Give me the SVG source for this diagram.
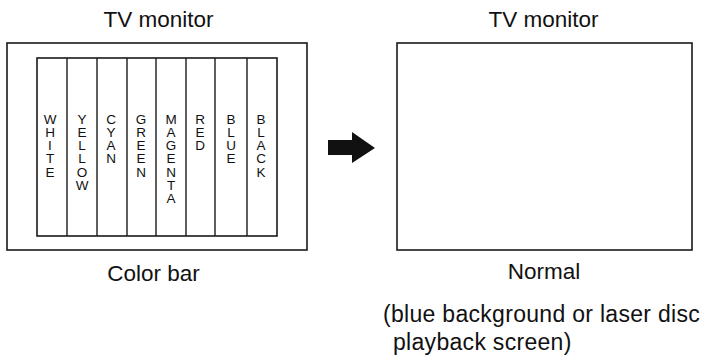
<svg xmlns="http://www.w3.org/2000/svg" width="703" height="361" viewBox="0 0 703 361">
<style>
.box{fill:none;stroke:#1a1a1a;stroke-width:1.6}
.line{stroke:#1a1a1a;stroke-width:1.4}
.lbl{font-family:"Liberation Sans",Arial,sans-serif;font-size:22.5px;fill:#111;text-anchor:middle}
.sub{font-family:"Liberation Sans",Arial,sans-serif;font-size:23px;fill:#111;letter-spacing:0.3px}
.bar{font-family:"Liberation Sans",Arial,sans-serif;font-size:13.5px;fill:#111;text-anchor:middle}
</style>
<rect width="703" height="361" fill="#fff"/>
<g id="left-monitor">
<text class="lbl" x="158.5" y="27">TV monitor</text>
<rect class="box" x="7" y="43" width="300" height="207"/>
<rect class="box" x="37" y="58" width="240" height="178"/>
<line class="line" x1="67" y1="58" x2="67" y2="236"/>
<line class="line" x1="97" y1="58" x2="97" y2="236"/>
<line class="line" x1="127" y1="58" x2="127" y2="236"/>
<line class="line" x1="156" y1="58" x2="156" y2="236"/>
<line class="line" x1="186" y1="58" x2="186" y2="236"/>
<line class="line" x1="215" y1="58" x2="215" y2="236"/>
<line class="line" x1="247" y1="58" x2="247" y2="236"/>
<text class="bar"><tspan x="50" y="123.5">W</tspan><tspan x="50" dy="13.3">H</tspan><tspan x="50" dy="13.3">I</tspan><tspan x="50" dy="13.3">T</tspan><tspan x="50" dy="13.3">E</tspan></text>
<text class="bar"><tspan x="82" y="123.5">Y</tspan><tspan x="82" dy="13.3">E</tspan><tspan x="82" dy="13.3">L</tspan><tspan x="82" dy="13.3">L</tspan><tspan x="82" dy="13.3">O</tspan><tspan x="82" dy="13.3">W</tspan></text>
<text class="bar"><tspan x="111" y="123.5">C</tspan><tspan x="111" dy="13.3">Y</tspan><tspan x="111" dy="13.3">A</tspan><tspan x="111" dy="13.3">N</tspan></text>
<text class="bar"><tspan x="141" y="123.5">G</tspan><tspan x="141" dy="13.3">R</tspan><tspan x="141" dy="13.3">E</tspan><tspan x="141" dy="13.3">E</tspan><tspan x="141" dy="13.3">N</tspan></text>
<text class="bar"><tspan x="171" y="123.5">M</tspan><tspan x="171" dy="13.3">A</tspan><tspan x="171" dy="13.3">G</tspan><tspan x="171" dy="13.3">E</tspan><tspan x="171" dy="13.3">N</tspan><tspan x="171" dy="13.3">T</tspan><tspan x="171" dy="13.3">A</tspan></text>
<text class="bar"><tspan x="200" y="123.5">R</tspan><tspan x="200" dy="13.3">E</tspan><tspan x="200" dy="13.3">D</tspan></text>
<text class="bar"><tspan x="231" y="123.5">B</tspan><tspan x="231" dy="13.3">L</tspan><tspan x="231" dy="13.3">U</tspan><tspan x="231" dy="13.3">E</tspan></text>
<text class="bar"><tspan x="261" y="123.5">B</tspan><tspan x="261" dy="13.3">L</tspan><tspan x="261" dy="13.3">A</tspan><tspan x="261" dy="13.3">C</tspan><tspan x="261" dy="13.3">K</tspan></text>
<text class="lbl" x="153.5" y="281">Color bar</text>
</g>
<g id="connectors">
<path d="M328,140 H352 V132 L375,148 L352,163 V155 H328 Z" fill="#111"/>
</g>
<g id="right-monitor">
<text class="lbl" x="543.5" y="27">TV monitor</text>
<rect class="box" x="397" y="43" width="295" height="207"/>
<text class="lbl" x="544" y="279">Normal</text>
<text class="sub" x="383" y="322">(blue background or laser disc</text>
<text class="sub" x="393" y="350">playback screen)</text>
</g>
</svg>
